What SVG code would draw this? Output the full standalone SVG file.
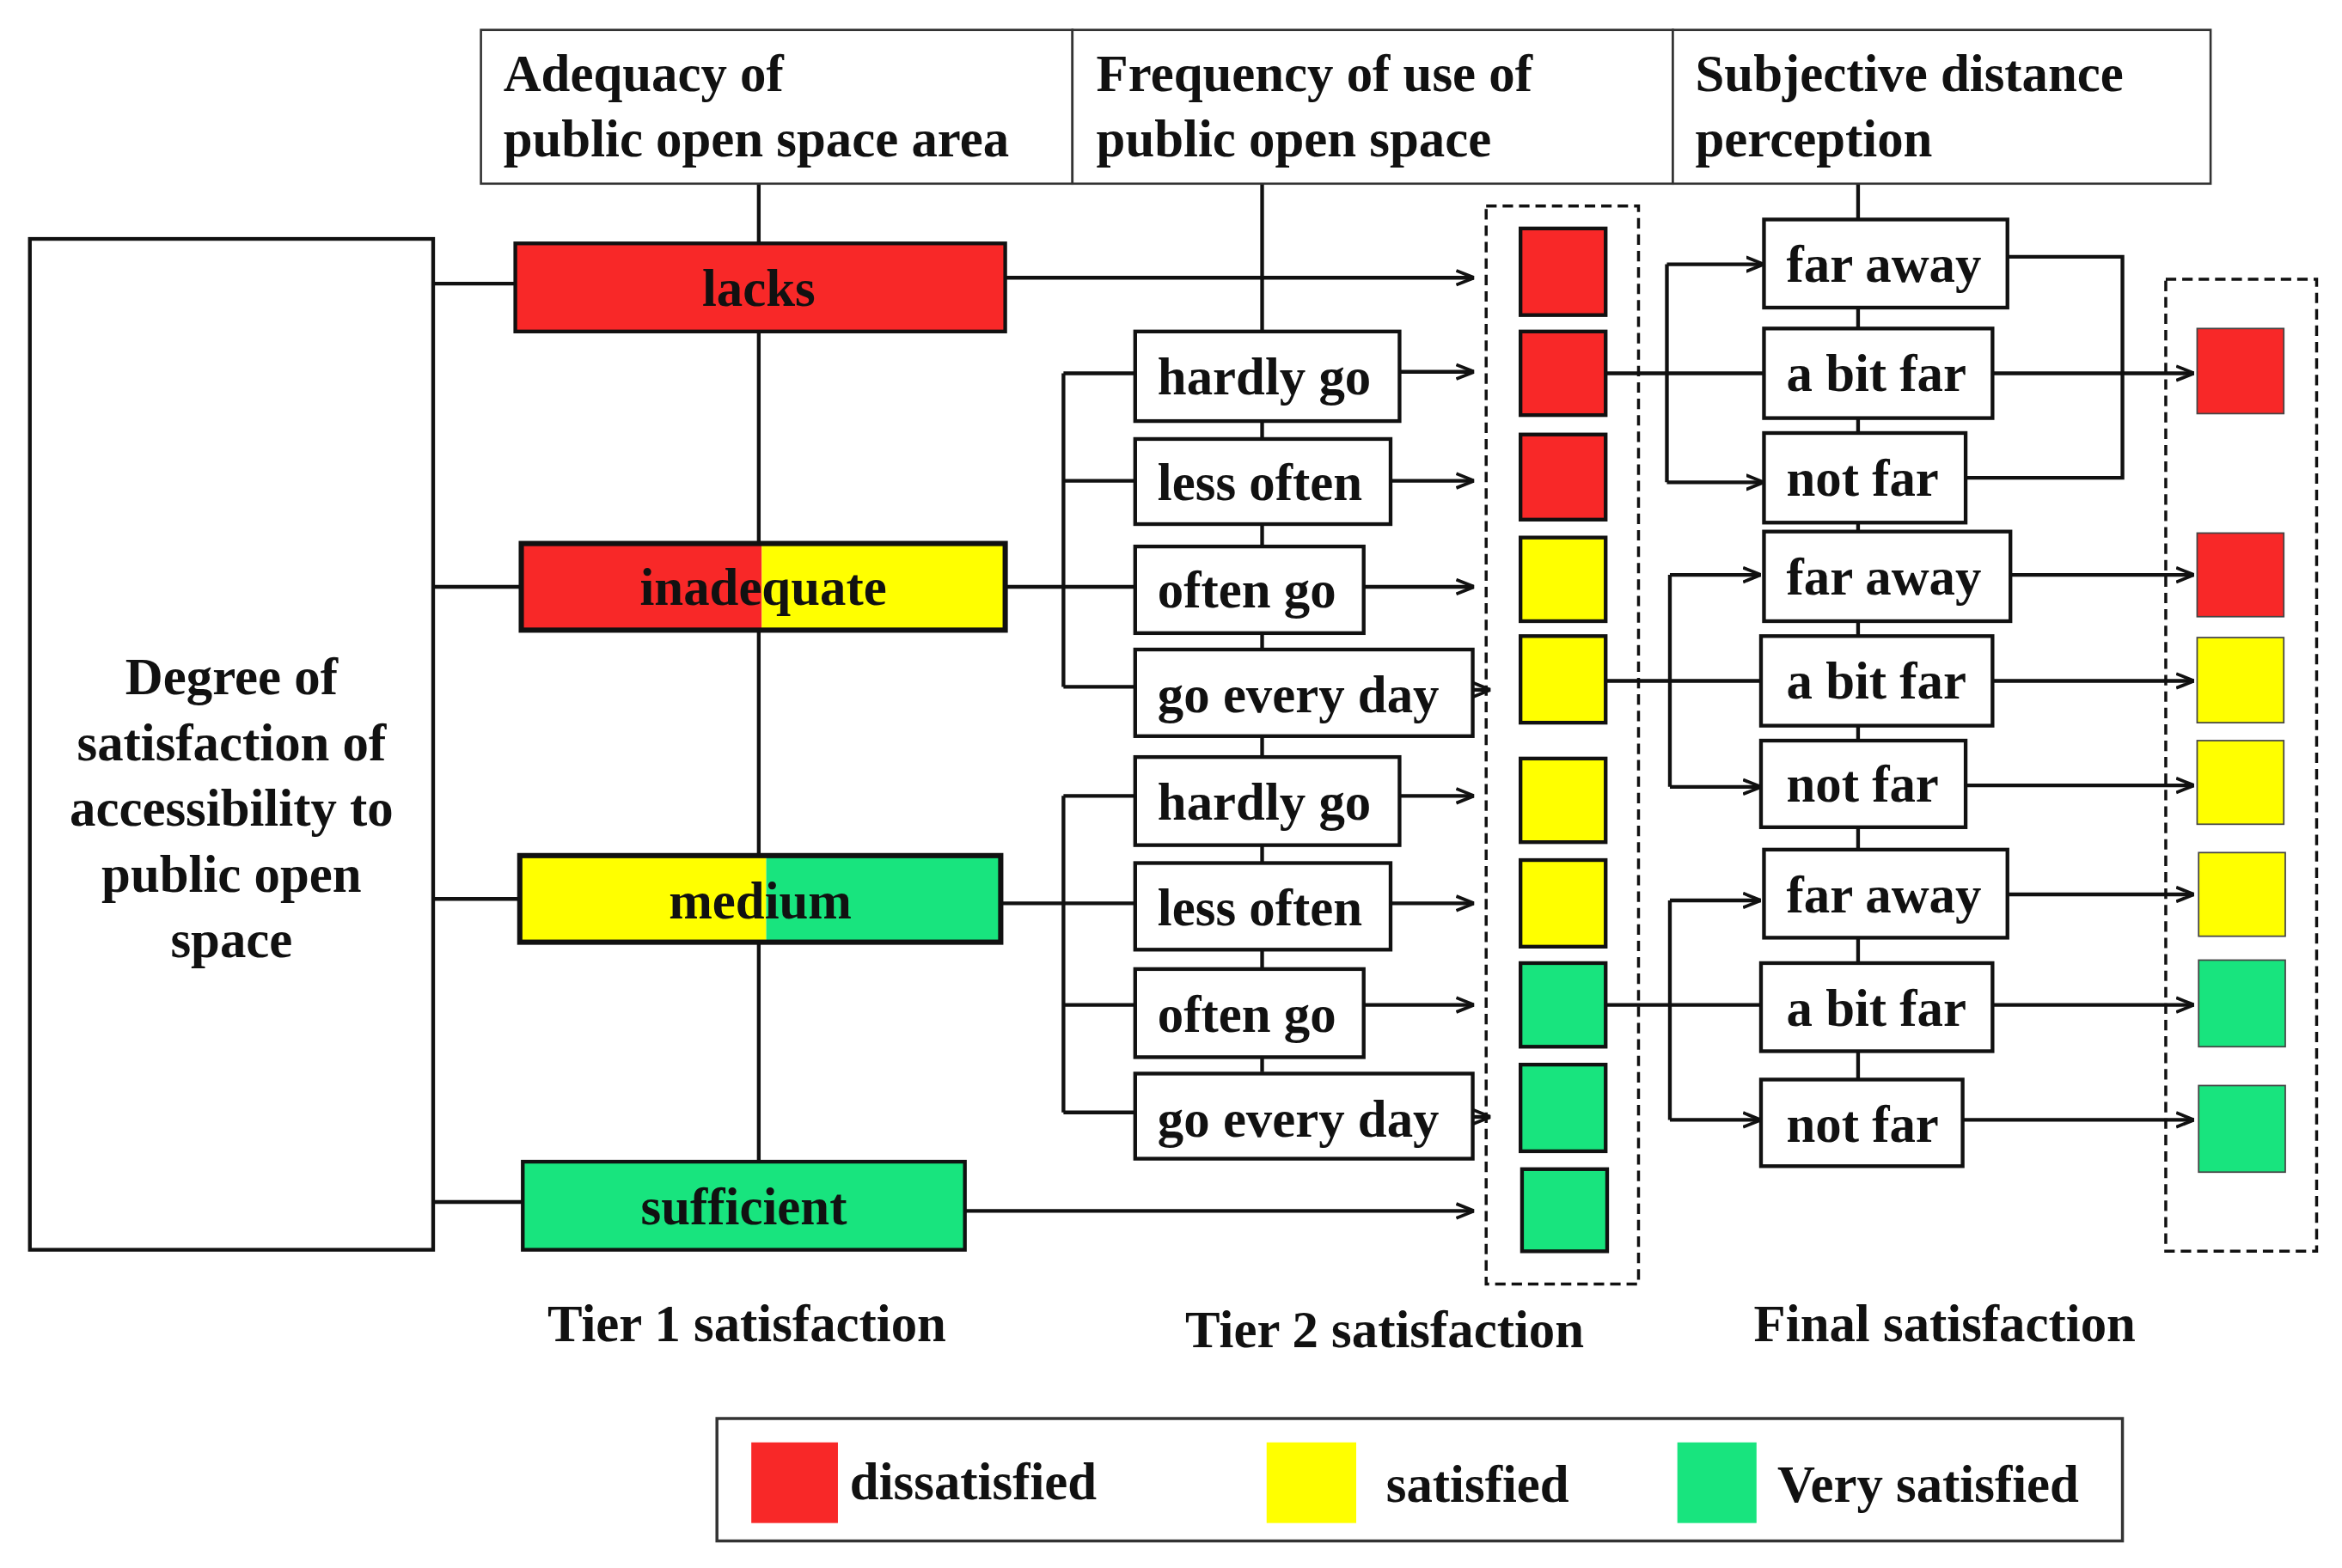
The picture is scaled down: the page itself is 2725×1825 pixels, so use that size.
<svg xmlns="http://www.w3.org/2000/svg" width="2725" height="1825" viewBox="0 0 2725 1825">
<style>
text{font-family:"Liberation Serif","Times New Roman",serif;font-weight:bold;font-size:35px;fill:#111}
.c{text-anchor:middle}
.ln{stroke:#111;stroke-width:2.5;fill:none}
.bx{fill:#fff;stroke:#111;stroke-width:2.5}
.hd{fill:#fff;stroke:#333;stroke-width:1.5}
.r{fill:#f82828}.y{fill:#ffff00}.g{fill:#18e47e}
.sq{stroke:#111;stroke-width:2.5}
.dash{fill:none;stroke:#111;stroke-width:2;stroke-dasharray:7,4}
</style>
<defs><marker id="a" viewBox="0 0 10 10" refX="10" refY="5" markerWidth="12" markerHeight="12" markerUnits="userSpaceOnUse" orient="auto"><path d="M0,1 L10,5 L0,9" fill="none" stroke="#111" stroke-width="1.8"/></marker></defs>
<rect width="2725" height="1825" fill="#fff"/>
<g transform="scale(1.7379)">
<g id="connectors">
<path class="ln" d="M508,123V778M845,123V718M1244,123V723"/>
<path class="ln" d="M290,190H345M290,393H349M290,602H348M290,805H350"/>
<path class="ln" d="M673,393H760M712,250V460M712,250H760M712,322H760M712,460H760"/>
<path class="ln" d="M670,605H760M712,533V745M712,533H760M712,673H760M712,745H760"/>
<g marker-end="url(#a)" class="ln">
<path d="M673,186H987"/><path d="M646,811H987"/>
<path d="M937,249H987"/><path d="M931,322H987"/><path d="M913,393H987"/><path d="M986,462H998"/>
<path d="M937,533H987"/><path d="M931,605H987"/><path d="M913,673H987"/><path d="M986,748H998"/>
<path d="M1116,177H1181"/><path d="M1116,323H1181"/>
<path d="M1334,250H1469"/>
<path d="M1118,385H1179"/><path d="M1118,527H1179"/>
<path d="M1346,385H1469"/><path d="M1334,456H1469"/><path d="M1316,526H1469"/>
<path d="M1118,603H1179"/><path d="M1118,750H1179"/>
<path d="M1344,599H1469"/><path d="M1334,673H1469"/><path d="M1314,750H1469"/>
</g>
<path class="ln" d="M1075,250H1181M1116,177V323M1344,172H1421V320H1316"/>
<path class="ln" d="M1075,456H1179M1118,385V527"/>
<path class="ln" d="M1075,673H1179M1118,603V750"/>
</g>
<g id="headers">
<rect class="hd" x="322" y="20" width="396" height="103"/>
<rect class="hd" x="718" y="20" width="402" height="103"/>
<rect class="hd" x="1120" y="20" width="360" height="103"/>
<text x="337" y="61">Adequacy of</text><text x="337" y="105">public open space area</text>
<text x="734" y="61">Frequency of use of</text><text x="734" y="105">public open space</text>
<text x="1135" y="61">Subjective distance</text><text x="1135" y="105">perception</text>
</g>
<g id="root">
<rect class="bx" x="20" y="160" width="270" height="677"/>
<text class="c" x="155" y="465">Degree of</text><text class="c" x="155" y="509">satisfaction of</text><text class="c" x="155" y="553">accessibility to</text><text class="c" x="155" y="597">public open</text><text class="c" x="155" y="641">space</text>
</g>
<g id="tier1">
<rect class="r sq" x="345" y="163" width="328" height="59"/><text class="c" x="508" y="205">lacks</text>
<rect class="r" x="349" y="364" width="161" height="58"/><rect class="y" x="510" y="364" width="163" height="58"/>
<rect x="349" y="364" width="324" height="58" fill="none" stroke="#111" stroke-width="3.5"/><text class="c" x="511" y="405">inadequate</text>
<rect class="y" x="348" y="573" width="165" height="58"/><rect class="g" x="513" y="573" width="157" height="58"/>
<rect x="348" y="573" width="322" height="58" fill="none" stroke="#111" stroke-width="3.5"/><text class="c" x="509" y="615">medium</text>
<rect class="g sq" x="350" y="778" width="296" height="59"/><text class="c" x="498" y="820">sufficient</text>
</g>
<g id="tier2">
<rect class="bx" x="760" y="222" width="177" height="60"/><text x="775" y="264">hardly go</text>
<rect class="bx" x="760" y="294" width="171" height="57"/><text x="775" y="335">less often</text>
<rect class="bx" x="760" y="366" width="153" height="58"/><text x="775" y="407">often go</text>
<rect class="bx" x="760" y="435" width="226" height="58"/><text x="775" y="477">go every day</text>
<rect class="bx" x="760" y="507" width="177" height="59"/><text x="775" y="549">hardly go</text>
<rect class="bx" x="760" y="578" width="171" height="58"/><text x="775" y="620">less often</text>
<rect class="bx" x="760" y="649" width="153" height="59"/><text x="775" y="691">often go</text>
<rect class="bx" x="760" y="719" width="226" height="57"/><text x="775" y="761">go every day</text>
</g>
<g id="tier2result">
<rect class="dash" x="995" y="138" width="102" height="722"/>
<rect class="r sq" x="1018" y="153" width="57" height="58"/>
<rect class="r sq" x="1018" y="222" width="57" height="56"/>
<rect class="r sq" x="1018" y="291" width="57" height="57"/>
<rect class="y sq" x="1018" y="360" width="57" height="56"/>
<rect class="y sq" x="1018" y="426" width="57" height="58"/>
<rect class="y sq" x="1018" y="508" width="57" height="56"/>
<rect class="y sq" x="1018" y="576" width="57" height="58"/>
<rect class="g sq" x="1018" y="645" width="57" height="56"/>
<rect class="g sq" x="1018" y="713" width="57" height="58"/>
<rect class="g sq" x="1019" y="783" width="57" height="55"/>
</g>
<g id="distance">
<rect class="bx" x="1181" y="147" width="163" height="59"/><text x="1196" y="189">far away</text>
<rect class="bx" x="1181" y="220" width="153" height="60"/><text x="1196" y="262">a bit far</text>
<rect class="bx" x="1181" y="290" width="135" height="60"/><text x="1196" y="332">not far</text>
<rect class="bx" x="1181" y="356" width="165" height="60"/><text x="1196" y="398">far away</text>
<rect class="bx" x="1179" y="426" width="155" height="60"/><text x="1196" y="468">a bit far</text>
<rect class="bx" x="1179" y="496" width="137" height="58"/><text x="1196" y="537">not far</text>
<rect class="bx" x="1181" y="569" width="163" height="59"/><text x="1196" y="611">far away</text>
<rect class="bx" x="1179" y="645" width="155" height="59"/><text x="1196" y="687">a bit far</text>
<rect class="bx" x="1179" y="723" width="135" height="58"/><text x="1196" y="765">not far</text>
</g>
<g id="final">
<rect class="dash" x="1450" y="187" width="101" height="651"/>
<rect class="r" x="1471" y="220" width="58" height="57" stroke="#444"/>
<rect class="r" x="1471" y="357" width="58" height="56" stroke="#444"/>
<rect class="y" x="1471" y="427" width="58" height="57" stroke="#444"/>
<rect class="y" x="1471" y="496" width="58" height="56" stroke="#444"/>
<rect class="y" x="1472" y="571" width="58" height="56" stroke="#444"/>
<rect class="g" x="1472" y="643" width="58" height="58" stroke="#444"/>
<rect class="g" x="1472" y="727" width="58" height="58" stroke="#444"/>
</g>
<g id="labels">
<text class="c" x="500" y="898">Tier 1 satisfaction</text>
<text class="c" x="927" y="902">Tier 2 satisfaction</text>
<text class="c" x="1302" y="898">Final satisfaction</text>
</g>
<g id="legend">
<rect x="480" y="950" width="941" height="82" fill="#fff" stroke="#333" stroke-width="2"/>
<rect class="r" x="503" y="966" width="58" height="54"/><text x="569" y="1004">dissatisfied</text>
<rect class="y" x="848" y="966" width="60" height="54"/><text x="928" y="1006">satisfied</text>
<rect class="g" x="1123" y="966" width="53" height="54"/><text x="1190" y="1006">Very satisfied</text>
</g>
</g>
</svg>
